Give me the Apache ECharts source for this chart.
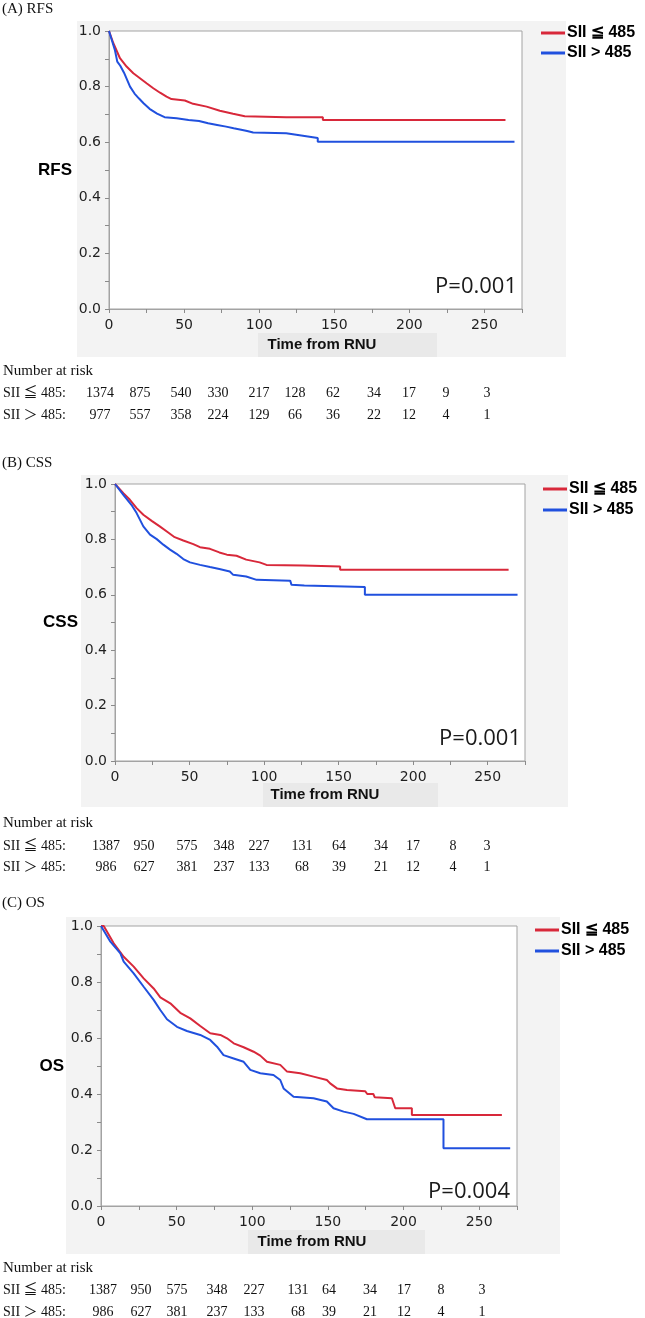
<!DOCTYPE html>
<html><head><meta charset="utf-8">
<script src="https://cdn.jsdelivr.net/npm/echarts/dist/echarts.min.js"></script>
<style>html,body{margin:0;padding:0;background:#fff}#c{width:645px;height:1318px}</style>
</head><body><div id="c"></div>
<script>
// ---------------- DATA ----------------
const groupLow = 'SII ≦ 485';
const groupHigh = 'SII > 485';
const panelTitles = ['(A) RFS', '(B) CSS', '(C) OS'];
const yNames = ['RFS', 'CSS', 'OS'];
const pValues = ['P=0.001', 'P=0.001', 'P=0.004'];
const xAxisTitle = 'Time from RNU';
const riskTitle = 'Number at risk';
const riskRowLabels = ['SII ≦ 485:', 'SII ＞ 485:'];

// (A) RFS
const rfsLowT  = [0, 2.9, 7.3, 11.7, 16.2, 20.6, 25, 29.5, 34, 38.3, 41.6, 50.5, 56, 65, 73.8, 82.6, 90.4, 118, 142.4, 142.4, 264];
const rfsLowS  = [1.0, 0.956, 0.902, 0.872, 0.848, 0.83, 0.812, 0.794, 0.778, 0.764, 0.755, 0.75, 0.738, 0.728, 0.713, 0.702, 0.693, 0.69, 0.69, 0.68, 0.68];
const rfsHighT = [0, 2, 4, 5.5, 7.5, 10, 12, 14, 17, 20, 23, 27, 32, 37, 45, 53, 60, 66, 72, 78, 83, 88, 92, 96, 118, 118, 128, 128, 139, 139, 270];
const rfsHighS = [1.0, 0.965, 0.93, 0.89, 0.875, 0.85, 0.825, 0.80, 0.775, 0.757, 0.74, 0.72, 0.703, 0.69, 0.686, 0.68, 0.676, 0.668, 0.662, 0.656, 0.65, 0.645, 0.64, 0.635, 0.632, 0.626, 0.624, 0.617, 0.615, 0.602, 0.602];

// (B) CSS
const cssLowT  = [0, 1, 5.6, 10, 14.5, 19, 24.6, 30, 35.7, 40, 45.8, 52.5, 57, 63.7, 70, 75, 81.5, 88, 97, 101.6, 126, 126, 151, 151, 264];
const cssLowS  = [1.0, 1.0, 0.967, 0.943, 0.913, 0.889, 0.867, 0.847, 0.825, 0.808, 0.796, 0.783, 0.772, 0.766, 0.753, 0.745, 0.741, 0.727, 0.717, 0.708, 0.706, 0.702, 0.702, 0.69, 0.69];
const cssHighT = [0, 5.6, 11, 14.5, 19, 23.5, 28, 32.4, 36.9, 41.3, 45.8, 50.3, 57, 63.7, 70, 77, 79.3, 88, 95, 117.5, 118.4, 127, 127, 167.6, 167.6, 270];
const cssHighS = [1.0, 0.961, 0.925, 0.895, 0.847, 0.817, 0.801, 0.781, 0.763, 0.748, 0.729, 0.717, 0.708, 0.70, 0.693, 0.684, 0.672, 0.666, 0.654, 0.651, 0.636, 0.634, 0.628, 0.628, 0.60, 0.60];

// (C) OS
const osLowT  = [0, 1.8, 8.4, 15, 21.6, 28.2, 34.8, 39.2, 45.8, 52.4, 59, 65.6, 72.2, 78.9, 83.3, 87.7, 94.3, 100.9, 105.3, 109.7, 118.5, 123, 131.7, 140.5, 149.3, 151.5, 156, 162.6, 174.7, 176, 180, 181, 192.3, 194.5, 205.5, 205.5, 265];
const osLowS  = [1.0, 1.0, 0.938, 0.890, 0.855, 0.813, 0.777, 0.745, 0.724, 0.690, 0.670, 0.643, 0.617, 0.611, 0.599, 0.581, 0.567, 0.551, 0.537, 0.515, 0.504, 0.480, 0.474, 0.462, 0.450, 0.438, 0.420, 0.414, 0.41, 0.40, 0.40, 0.388, 0.385, 0.349, 0.349, 0.325, 0.325];
const osHighT = [0, 6.2, 12.8, 15, 21.6, 28.2, 34.8, 39.2, 43.6, 50.2, 56.8, 65.6, 72.2, 76.7, 81, 87.7, 94.3, 98.7, 105.3, 114, 118.5, 120.7, 127.3, 140.5, 149.3, 153.7, 160.4, 167, 175.8, 226.4, 226.4, 270.5];
const osHighS = [1.0, 0.944, 0.902, 0.873, 0.831, 0.783, 0.736, 0.700, 0.667, 0.640, 0.625, 0.611, 0.593, 0.569, 0.539, 0.527, 0.515, 0.486, 0.474, 0.468, 0.450, 0.420, 0.390, 0.385, 0.373, 0.349, 0.337, 0.329, 0.310, 0.310, 0.206, 0.206];

// Number at risk
const riskRfsLow  = [1374, 875, 540, 330, 217, 128, 62, 34, 17, 9, 3];
const riskRfsHigh = [977, 557, 358, 224, 129, 66, 36, 22, 12, 4, 1];
const riskCssLow  = [1387, 950, 575, 348, 227, 131, 64, 34, 17, 8, 3];
const riskCssHigh = [986, 627, 381, 237, 133, 68, 39, 21, 12, 4, 1];
const riskOsLow   = [1387, 950, 575, 348, 227, 131, 64, 34, 17, 8, 3];
const riskOsHigh  = [986, 627, 381, 237, 133, 68, 39, 21, 12, 4, 1];

// ---------------- LAYOUT ----------------
const colorLow = '#d8283a';
const colorHigh = '#2050de';
const panels = [
  { grid: {left: 109, top: 31, width: 413, height: 278}, bg: [77, 21, 489, 336], titleY: 9,
    legendX: 541, legendY: 24, legendGap: 2, tbox: [258, 333, 179, 24], tText: [322, 345],
    p: [517, 287], riskY: [371, 393, 415],
    cols: [100, 140, 181, 218, 259, 295, 333, 374, 409, 446, 487],
    low: [rfsLowT, rfsLowS], high: [rfsHighT, rfsHighS], risk: [riskRfsLow, riskRfsHigh] },
  { grid: {left: 115, top: 484, width: 410, height: 277}, bg: [81, 475, 487, 332], titleY: 463,
    legendX: 543, legendY: 480, legendGap: 3, tbox: [263, 783, 175, 24], tText: [325, 795],
    p: [521, 739], riskY: [823, 846, 867],
    cols: [106, 144, 187, 224, 259, 302, 339, 381, 413, 453, 487],
    low: [cssLowT, cssLowS], high: [cssHighT, cssHighS], risk: [riskCssLow, riskCssHigh] },
  { grid: {left: 101, top: 926, width: 416, height: 280}, bg: [66, 917, 494, 337], titleY: 903,
    legendX: 535, legendY: 921, legendGap: 3, tbox: [248, 1230, 177, 24], tText: [312, 1242],
    p: [510, 1192], riskY: [1268, 1290, 1312],
    cols: [103, 141, 177, 217, 254, 298, 329, 370, 404, 441, 482],
    low: [osLowT, osLowS], high: [osHighT, osHighS], risk: [riskOsLow, riskOsHigh] }
];

const zip = (T, S) => T.map((t, k) => [t, S[k]]);
const serif = '"Liberation Serif", "Noto Sans CJK JP", serif';

const grids = [], xAxes = [], yAxes = [], series = [], legends = [], graphics = [];
panels.forEach((pn, i) => {
  grids.push(Object.assign({show: true, backgroundColor: '#fff', borderColor: '#a3a3a3', borderWidth: 1}, pn.grid));
  xAxes.push({
    type: 'value', gridIndex: i, min: 0, max: 275, interval: 50,
    axisLine: {show: true, lineStyle: {color: '#a3a3a3'}},
    axisTick: {show: true, length: 4, lineStyle: {color: '#8a8a8a'}},
    minorTick: {show: true, splitNumber: 2, length: 4, lineStyle: {color: '#8a8a8a'}},
    splitLine: {show: false},
    axisLabel: {color: '#1f1f1f', fontSize: 14, fontFamily: 'DejaVu Sans', margin: 9, showMaxLabel: false}
  });
  yAxes.push({
    type: 'value', gridIndex: i, min: 0, max: 1, interval: 0.2,
    name: yNames[i], nameLocation: 'middle', nameRotate: 0, nameGap: 37,
    nameTextStyle: {fontSize: 17, fontWeight: 'bold', color: '#000', fontFamily: 'Liberation Sans', align: 'right'},
    axisLine: {show: true, lineStyle: {color: '#a3a3a3'}},
    axisTick: {show: true, length: 4, lineStyle: {color: '#8a8a8a'}},
    minorTick: {show: true, splitNumber: 2, length: 4, lineStyle: {color: '#8a8a8a'}},
    splitLine: {show: false},
    axisLabel: {color: '#1f1f1f', fontSize: 14, fontFamily: 'DejaVu Sans', margin: 8,
                formatter: v => v.toFixed(1)}
  });
  series.push({name: groupLow, type: 'line', xAxisIndex: i, yAxisIndex: i, data: zip(pn.low[0], pn.low[1]),
    showSymbol: false, symbol: 'none', lineStyle: {width: 2, color: colorLow}, itemStyle: {color: colorLow}, z: 3});
  series.push({name: groupHigh, type: 'line', xAxisIndex: i, yAxisIndex: i, data: zip(pn.high[0], pn.high[1]),
    showSymbol: false, symbol: 'none', lineStyle: {width: 2, color: colorHigh}, itemStyle: {color: colorHigh}, z: 3});
  legends.push({
    data: [groupLow, groupHigh], orient: 'vertical', left: pn.legendX, top: pn.legendY,
    padding: 0, itemGap: pn.legendGap, itemWidth: 24, itemHeight: 3, icon: 'rect',
    selectedMode: false,
    textStyle: {fontSize: 16, fontWeight: 'bold', color: '#000', fontFamily: 'Liberation Sans', lineHeight: 18, padding: [0, 0, 0, -3]}
  });
  graphics.push({type: 'rect', z: -10, shape: {x: pn.bg[0], y: pn.bg[1], width: pn.bg[2], height: pn.bg[3]},
    style: {fill: '#f3f3f3'}});
  graphics.push({type: 'rect', z: -9, shape: {x: pn.tbox[0], y: pn.tbox[1], width: pn.tbox[2], height: pn.tbox[3]},
    style: {fill: '#e9e9e9'}});
  graphics.push({type: 'text', z: 5, x: pn.tText[0], y: pn.tText[1],
    style: {text: xAxisTitle, font: 'bold 15px "Liberation Sans"', fill: '#111', align: 'center', verticalAlign: 'middle',
            textAlign: 'center', textVerticalAlign: 'middle'}});
  graphics.push({type: 'text', x: 2, y: pn.titleY,
    style: {text: panelTitles[i], font: '15px ' + serif, fill: '#111', align: 'left', verticalAlign: 'middle',
            textAlign: 'left', textVerticalAlign: 'middle'}});
  graphics.push({type: 'text', z: 5, x: pn.p[0], y: pn.p[1],
    style: {text: pValues[i], font: '22px "Open Sans"', fill: '#1a1a1a', align: 'right', verticalAlign: 'middle',
            textAlign: 'right', textVerticalAlign: 'middle'}});
  graphics.push({type: 'text', x: 3, y: pn.riskY[0],
    style: {text: riskTitle, font: '15px ' + serif, fill: '#111', align: 'left', verticalAlign: 'middle',
            textAlign: 'left', textVerticalAlign: 'middle'}});
  [0, 1].forEach(r => {
    const y = pn.riskY[r + 1];
    graphics.push({type: 'text', x: 3, y: y,
      style: {text: riskRowLabels[r], font: '14px ' + serif, fill: '#111', align: 'left', verticalAlign: 'middle',
              textAlign: 'left', textVerticalAlign: 'middle'}});
    pn.risk[r].forEach((v, k) => {
      graphics.push({type: 'text', x: pn.cols[k], y: y,
        style: {text: String(v), font: '14px ' + serif, fill: '#111', align: 'center', verticalAlign: 'middle',
                textAlign: 'center', textVerticalAlign: 'middle'}});
    });
  });
});

const chart = echarts.init(document.getElementById('c'), null, {renderer: 'canvas'});
chart.setOption({
  animation: false,
  backgroundColor: '#fff',
  grid: grids, xAxis: xAxes, yAxis: yAxes, series: series, legend: legends,
  graphic: {elements: graphics}
});
</script></body></html>
